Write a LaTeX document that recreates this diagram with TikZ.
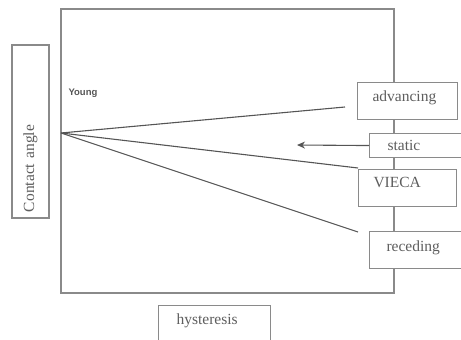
\documentclass[tikz,border=0pt]{standalone}
\usepackage{fontspec}
\setmainfont{Liberation Serif}
\newfontfamily\youngfont{Liberation Sans}
\usetikzlibrary{arrows.meta}
\definecolor{framegray}{HTML}{8A8A8A}
\definecolor{linegray}{HTML}{555555}
\definecolor{textgray}{HTML}{5E5E5E}
\tikzset{
  lblbox/.style={draw=framegray, line width=1.1pt, fill=white, anchor=north west,
    inner xsep=0pt, inner ysep=0pt, align=left, text=textgray,
    font=\fontsize{15.5}{18}\selectfont},
  ray/.style={draw=linegray, line width=1.1pt},
}
\begin{document}
\begin{tikzpicture}[x=1pt,y=-1pt]
\useasboundingbox (0,0) rectangle (461,340);
% frame
\draw[framegray, line width=1.1pt] (61,9) rectangle (394,293);
% origin and rays
\coordinate (o) at (61,133);
\coordinate (eadv) at (345,107);
\coordinate (evie) at (358,168);
\coordinate (erec) at (358,232);
\coordinate (arrend) at (297,145);
\draw[ray] (o) -- (eadv);
\draw[ray] (o) -- (evie);
\draw[ray] (o) -- (erec);
% Young label
\node[anchor=west, text=linegray, font=\youngfont\bfseries\fontsize{9.5}{12}\selectfont] (young) at (65,93) {Young};
% boxes on right
\node[lblbox, minimum width=100pt, minimum height=37pt, text width=90pt] (adv) at (357,82) {\hspace*{10pt}advancing\\[-9pt]\mbox{}};
\node[lblbox, minimum width=96pt, minimum height=24pt, text width=84pt] (stat) at (369,133) {\hspace*{12pt}static};
\node[lblbox, minimum width=98pt, minimum height=37pt, text width=88pt] (vieca) at (358,169) {\hspace*{10pt}VIECA\\[-6pt]\mbox{}};
\node[lblbox, minimum width=96pt, minimum height=37pt, text width=84pt] (rec) at (369,231) {\hspace*{11pt}receding\\[-10pt]\mbox{}};
% arrow
\draw[linegray, line width=1.1pt, -{Stealth[length=8pt,width=7pt]}] (stat.west) -- (arrend);
% hysteresis box
\node[lblbox, minimum width=112pt, minimum height=50pt, text width=100pt] (hyst) at (158,305) {\hspace*{12pt}hysteresis\\[5pt]\mbox{}};
% contact angle box
\node[lblbox, anchor=center, rotate=90, minimum width=173pt, minimum height=37pt, text width=173pt] (ca) at (30.5,131.5) {\hspace*{6pt}Contact angle};
\end{tikzpicture}
\end{document}
